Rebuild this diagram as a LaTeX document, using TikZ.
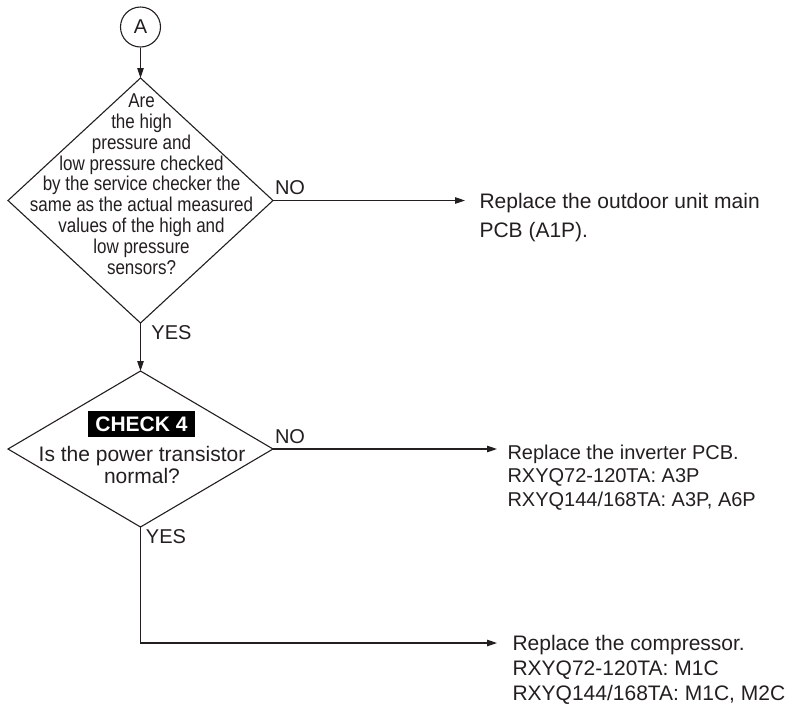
\documentclass[tikz,border=0pt]{standalone}
\usepackage{fontspec}
\setmainfont{Liberation Sans}
\newfontfamily\condensedfont{Liberation Sans}[FakeStretch=0.85]
\usetikzlibrary{shapes.geometric,arrows.meta}
\definecolor{ink}{RGB}{35,31,32}
\begin{document}
\begin{tikzpicture}[x=1pt,y=-1pt,
  color=ink, line width=1.1pt,
  flow/.style={-{Triangle[length=10pt,width=6.5pt]}},
  decision/.style={diamond, draw, inner sep=0pt, outer sep=0pt},
  lbl/.style={font=\fontsize{20}{24}\selectfont, inner sep=0pt},
  % multi-line text: the base anchor sits on the last line's baseline
  result/.style={align=left, anchor=base west, inner sep=0pt}
]
\useasboundingbox (0,0) rectangle (792,705);

% connector entry point
\node[circle, draw, minimum size=40pt, inner sep=0pt,
      font=\fontsize{20}{24}\selectfont] (A) at (140.5,27) {A};

% first decision: pressure readings
\node[decision, minimum width=265pt, minimum height=245pt] (q1) at (140.5,200.5) {};
\node[anchor=north, align=center, inner sep=0pt,
      font=\condensedfont\fontsize{20}{20.9}\selectfont] (q1txt) at (141.5,93)
  {Are\\the high\\pressure and\\low pressure checked\\by the service checker the\\same as the actual measured\\values of the high and\\low pressure\\sensors?};

% second decision: power transistor
\node[decision, minimum width=265pt, minimum height=156pt] (q2) at (140.5,449) {};
\node[fill=black, text=white, inner sep=0pt, minimum width=107pt, minimum height=26pt,
      font=\bfseries\fontsize{21}{24}\selectfont] (chk) at (141.5,424) {CHECK 4};
\node[anchor=north, align=center, inner sep=0pt,
      font=\fontsize{21}{22}\selectfont] (q2txt) at (142,445.5)
  {Is the power transistor\\normal?};

% actions
\node[result, font=\fontsize{21}{29}\selectfont] (r1) at (479,237.5)
  {Replace the outdoor unit main\\PCB (A1P).};
\node[result, font=\fontsize{20}{23.5}\selectfont] (r2) at (507,506)
  {Replace the inverter PCB.\\RXYQ72-120TA: A3P\\RXYQ144/168TA: A3P, A6P};
\node[result, font=\fontsize{21}{25}\selectfont] (r3) at (512,700)
  {Replace the compressor.\\RXYQ72-120TA: M1C\\RXYQ144/168TA: M1C, M2C};

% arrow ends in front of the action texts
\coordinate (e1) at (465,201);
\coordinate (e2) at (497,449);
\coordinate (e3) at (497,643);

% connectors
\draw[flow] (A) -- (q1.north);
\draw[flow] (q1.east) -- (q1.east -| e1);
\draw[flow] (q1.south) -- (q2.north);
\draw[flow] (q2.east) -- (q2.east -| e2);
\draw[flow] (q2.south) |- (e3);

% branch labels
\node[lbl] (no1) at (290,188) {NO};
\node[lbl] (yes1) at (171.5,333) {YES};
\node[lbl] (no2) at (290,437) {NO};
\node[lbl] (yes2) at (166,537) {YES};
\end{tikzpicture}
\end{document}
